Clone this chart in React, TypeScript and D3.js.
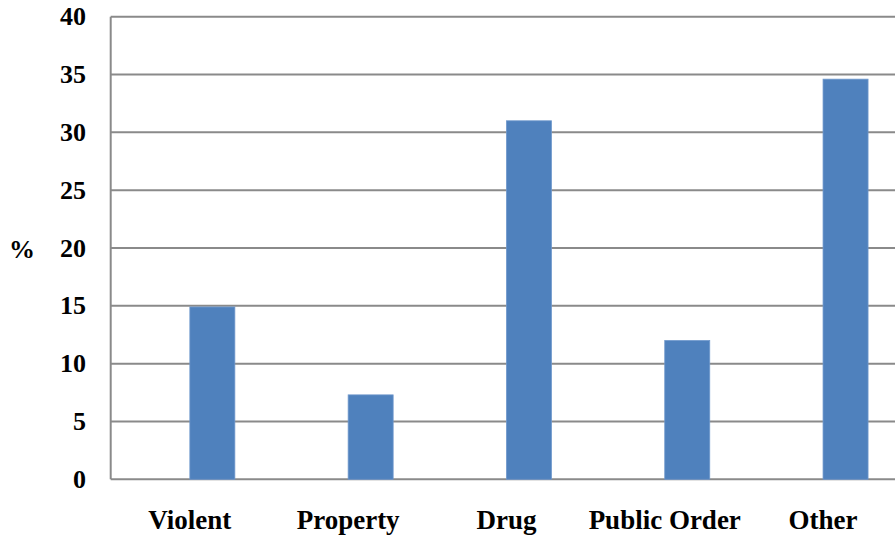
import React from "react";
import * as d3 from "d3";

const categories = ["Violent", "Property", "Drug", "Public Order", "Other"];
const values = [14.9, 7.3, 31.0, 12.0, 34.6];
const yTicks = [0, 5, 10, 15, 20, 25, 30, 35, 40];

const W = 895;
const H = 539;
const plotLeft = 110.7;
const plotRight = 902.2;
const plotTop = 16.7;
const plotBottom = 479.3;

const FONT = "Liberation Serif, Times New Roman, serif";

export default function App() {
  const x = d3.scaleBand<string>().domain(categories).range([plotLeft, plotRight]);
  const y = d3.scaleLinear().domain([0, 40]).range([plotBottom, plotTop]);
  // two slots per category; the first slot is left empty
  const slot = d3
    .scaleBand<string>()
    .domain(["blank", "share"])
    .range([x.bandwidth() / 2 - 45, x.bandwidth() / 2 + 45]);

  return (
    <svg
      width={W}
      height={H}
      style={{ position: "absolute", left: 0, top: 0, background: "#fff" }}
    >
      {yTicks.map((t) => (
        <line
          key={"g" + t}
          x1={plotLeft}
          x2={W}
          y1={y(t)}
          y2={y(t)}
          stroke="#8a8a8a"
          strokeWidth={2}
        />
      ))}
      <line x1={plotLeft} x2={plotLeft} y1={plotTop} y2={plotBottom} stroke="#8a8a8a" strokeWidth={2} />
      {categories.map((c, i) => (
        <rect
          key={c}
          x={(x(c) as number) + (slot("share") as number)}
          y={y(values[i])}
          width={slot.bandwidth()}
          height={y(0) - y(values[i])}
          fill="#4F81BD"
          stroke="#6f98cc"
          strokeWidth={0.8}
        />
      ))}
      {yTicks.map((t) => (
        <text
          key={"t" + t}
          x={86}
          y={y(t) + 8.5}
          textAnchor="end"
          fontFamily={FONT}
          fontWeight="bold"
          fontSize={26}
          fill="#000"
        >
          {t}
        </text>
      ))}
      {categories.map((c) => (
        <text
          key={"c" + c}
          x={(x(c) as number) + x.bandwidth() / 2}
          y={529}
          textAnchor="middle"
          fontFamily={FONT}
          fontWeight="bold"
          fontSize={27}
          fill="#000"
        >
          {c}
        </text>
      ))}
      <text x={22} y={258} textAnchor="middle" fontFamily={FONT} fontWeight="bold" fontSize={26} fill="#000">
        %
      </text>
    </svg>
  );
}
